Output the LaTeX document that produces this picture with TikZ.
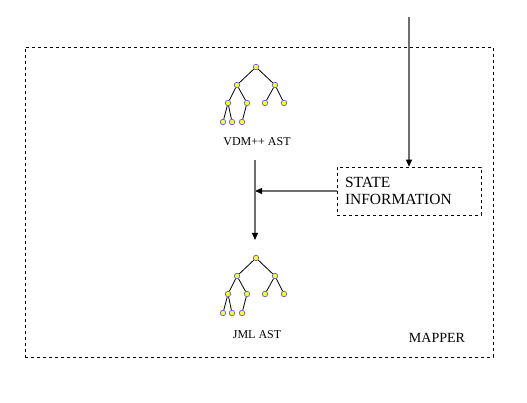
\documentclass[tikz,border=0pt]{standalone}
\usepackage{fontspec}
\setmainfont{Liberation Serif}
\usetikzlibrary{arrows.meta}
\usepackage{xcolor}

\definecolor{leafyellow}{RGB}{255,255,40}
\definecolor{leafblue}{RGB}{90,90,230}
\definecolor{flowgray}{RGB}{110,110,110}

\tikzset{
    leaf/.style={circle, fill=leafyellow, draw=leafblue, line width=0.7pt, inner sep=0pt, minimum size=5.5pt},
    flow/.style={draw=flowgray, line width=1.2pt, -{Triangle[length=7pt,width=6pt,color=black]}},
    branch/.style={draw=black, line width=0.8pt}
}

% one small syntax tree, nodes named #1r, #1a, ...
\newcommand{\asttree}[3]{%
    \begin{scope}[shift={(#2,#3)}]
        \node[leaf] (#1r) at (0,0) {};
        \node[leaf] (#1a) at (-19,18) {};
        \node[leaf] (#1b) at (19,18) {};
        \node[leaf] (#1c) at (-28,36) {};
        \node[leaf] (#1d) at (-9,36) {};
        \node[leaf] (#1e) at (9,36) {};
        \node[leaf] (#1f) at (28,36) {};
        \node[leaf] (#1g) at (-33,55) {};
        \node[leaf] (#1h) at (-24,55) {};
        \node[leaf] (#1i) at (-14,55) {};
        \draw[branch] (#1r) -- (#1a) (#1r) -- (#1b)
            (#1a) -- (#1c) (#1a) -- (#1d)
            (#1b) -- (#1e) (#1b) -- (#1f)
            (#1c) -- (#1g) (#1c) -- (#1h)
            (#1d) -- (#1i);
    \end{scope}}

\begin{document}
\begin{tikzpicture}[x=1pt, y=-1pt]
    \useasboundingbox (0,0) rectangle (527,403);

    % Mapper frame
    \node[draw, dashed, line width=0.6pt, minimum width=468pt, minimum height=310pt, inner sep=0pt] (mapper) at (259,202) {};
    \node[font=\fontsize{14}{16}\selectfont] (mapperlabel) at (437,338) {MAPPER};

    % Trees
    \asttree{v}{256}{67}
    \node[font=\fontsize{12}{14}\selectfont] (vdmlabel) at (257,142) {VDM++ AST};
    \asttree{j}{256}{258}
    \node[font=\fontsize{12}{14}\selectfont] (jmllabel) at (257,335) {JML AST};

    % State information
    \node[draw, dashed, line width=0.6pt, minimum width=144pt, minimum height=48pt,
          text width=128pt, align=left, inner xsep=8pt, font=\fontsize{15.5}{17}\selectfont] (state) at (409,191)
          {STATE\\INFORMATION};

    % Connectors
    \coordinate (input) at (409,17);
    \coordinate (vdmout) at (255,160);
    \coordinate (jmlin) at (255,240);
    \coordinate (join) at (state.west -| vdmout);
    \draw[flow] (input) -- (state.north);
    \draw[flow] (state.west) -- (join);
    \draw[flow] (vdmout) -- (jmlin);
\end{tikzpicture}
\end{document}
